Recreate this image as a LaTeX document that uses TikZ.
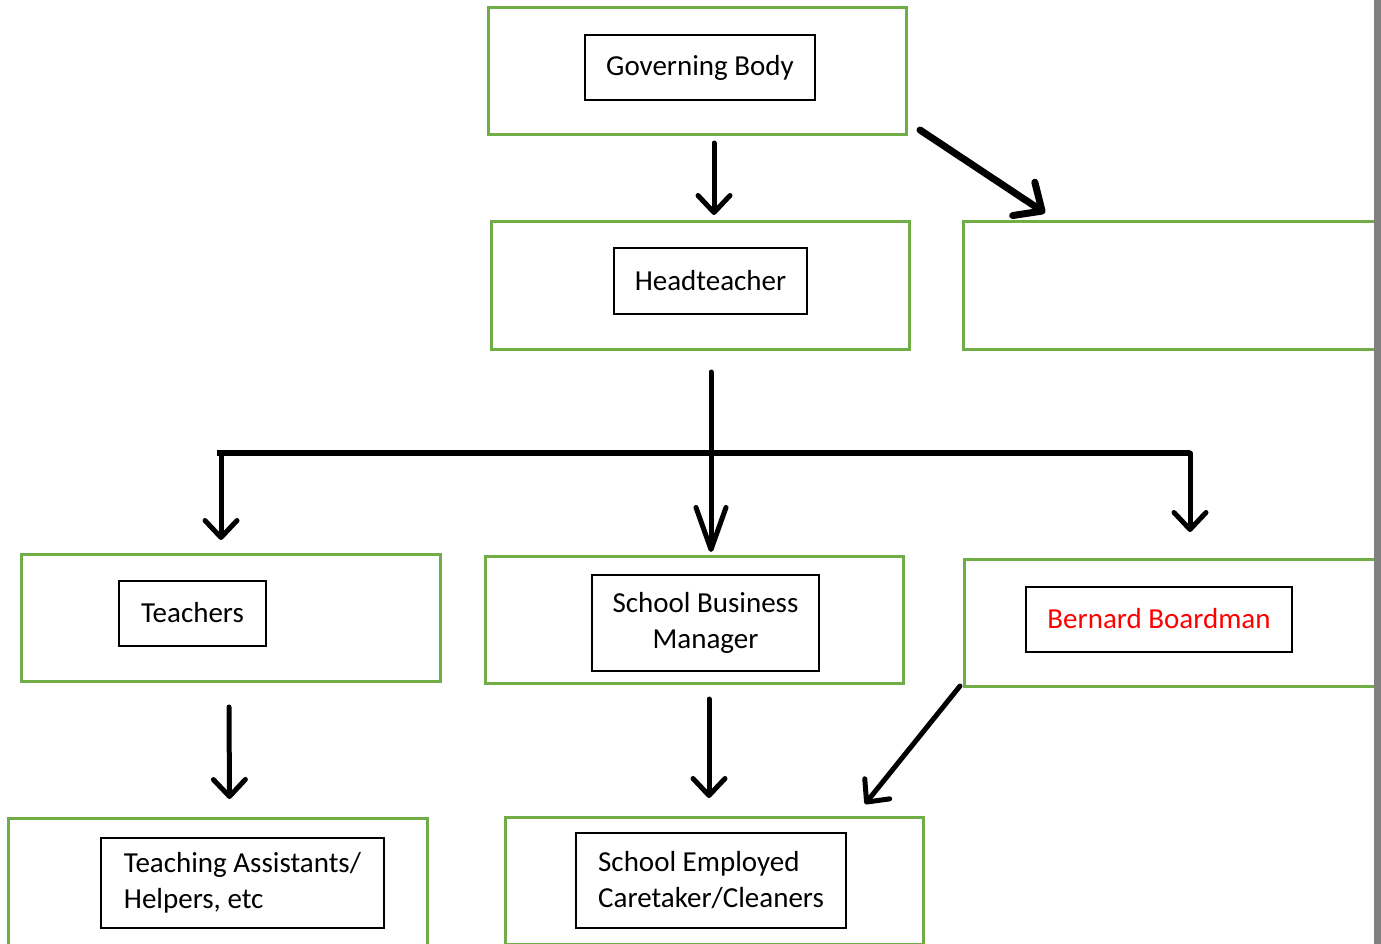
\documentclass[tikz,border=0pt]{standalone}
\usepackage{fontspec}
\setmainfont{Carlito}
\usetikzlibrary{arrows.meta}
\usetikzlibrary{positioning}

\definecolor{boxgreen}{RGB}{112,173,71}
\definecolor{barred}{RGB}{255,0,0}

\tikzset{
  outerbox/.style={draw=boxgreen, line width=3pt, minimum width=418pt,
    minimum height=127pt, outer sep=0pt, inner sep=0pt},
  textbox/.style={draw=black, line width=1.3pt, outer sep=0pt,
    font=\fontsize{29}{36}\selectfont},
  link/.style={line width=5pt, line cap=round,
    -{Straight Barb[round,length=17pt,width=32pt]}},
  biglink/.style={line width=5pt, line cap=round,
    -{Straight Barb[round,length=42pt,width=30pt]}},
  thicklink/.style={line width=7pt, line cap=round,
    -{Straight Barb[round,length=22pt,width=40pt]}}
}

\begin{document}
\begin{tikzpicture}[x=1pt,y=-1pt]
  \useasboundingbox (0,0) rectangle (1381,944);
  \clip (0,0) rectangle (1381,944);
  \fill[white] (0,0) rectangle (1381,944);

  % outer green frames
  \node[outerbox] (gov) at (697,71.5) {};
  \node[outerbox] (head) at (700,285.5) {};
  \node[outerbox, minimum width=430pt] (side) at (1178,285.5) {};
  \node[outerbox, minimum width=419pt] (teach) at (230.5,617.5) {};
  \node[outerbox] (sbm) at (694,619.5) {};
  \node[outerbox, minimum width=430pt] (bern) at (1179,622.5) {};
  \node[outerbox, minimum width=419pt] (ta) at (217.5,881.5) {};
  \node[outerbox] (sec) at (714,880.5) {};

  % inner text boxes
  \node[textbox, minimum width=230pt, minimum height=65pt] (govT) at (700,67.5) {\raisebox{2pt}{Governing Body}};
  \node[textbox, minimum width=193pt, minimum height=66pt] (headT) at (710.5,281) {\raisebox{2pt}{Headteacher}};
  \node[textbox, minimum width=147pt, minimum height=65pt] (teachT) at (192.5,613.5) {\raisebox{2pt}{Teachers}};
  \node[textbox, minimum width=227pt, minimum height=96pt, align=center] (sbmT) at (705.5,623) {School Business\\Manager};
  \node[textbox, minimum width=266pt, minimum height=65pt, text=barred] (bernT) at (1159,619.5) {\raisebox{2pt}{Bernard Boardman}};
  \node[textbox, minimum width=283pt, minimum height=90pt, align=left] (taT) at (242.5,883) {Teaching Assistants/\\Helpers, etc};
  \node[textbox, minimum width=270pt, minimum height=95pt, align=left] (secT) at (711,880.5) {School Employed\\Caretaker/Cleaners};

  % bus line under the headteacher
  \coordinate (busL) at (217,453);
  \coordinate (busR) at (1190,453);
  \draw[line width=6pt] (busL) -- (busR);

  % connectors
  \draw[link] ([xshift=17pt,yshift=-8pt]gov.south) -- ([xshift=14pt,yshift=7pt]head.north);
  \draw[thicklink] ([xshift=14pt,yshift=5pt]gov.south east) -- ([xshift=82pt,yshift=9pt]side.north west);
  \draw[biglink] ([xshift=11pt,yshift=-23pt]head.south) -- ([xshift=17pt,yshift=4pt]sbm.north);
  \draw[link] ([xshift=4pt]busL) -- ([xshift=-9.5pt,yshift=14pt]teach.north);
  \draw[link] (busR) -- ([xshift=11pt,yshift=27pt]bern.north);
  \draw[link] ([xshift=-1.5pt,yshift=-26pt]teach.south) -- ([xshift=12pt,yshift=19pt]ta.north);
  \draw[link] ([xshift=15pt,yshift=-16pt]sbm.south) -- ([xshift=-5pt,yshift=19pt]sec.north);
  \draw[link] ([xshift=-4pt]bern.south west) -- ([xshift=-58pt,yshift=13pt]sec.north east);

  % grey page edge
  \fill[gray] (1374,0) rectangle (1381,944);
\end{tikzpicture}
\end{document}
